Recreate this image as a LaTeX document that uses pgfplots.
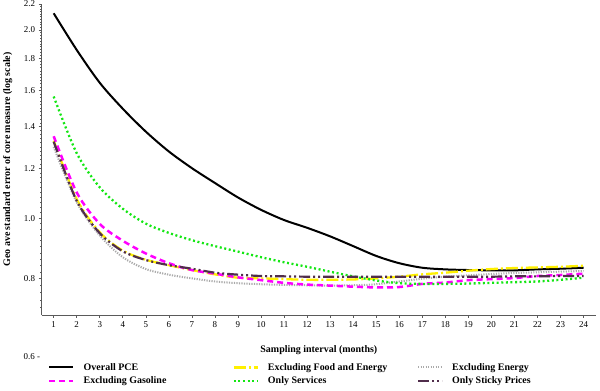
\documentclass[border=0pt]{standalone}
\usepackage{fontspec}
\setmainfont{Liberation Serif}
\usepackage{pgfplots}
\usepackage{pgfplotstable}
\pgfplotsset{compat=1.18}
\definecolor{cyel}{RGB}{255,240,0}
\definecolor{cgray}{RGB}{170,170,170}
\definecolor{cmag}{RGB}{255,0,255}
\definecolor{cgrn}{RGB}{20,230,20}
\definecolor{cpur}{RGB}{80,45,75}
\definecolor{caxis}{RGB}{90,90,90}

\pgfplotstableread{
x pce xfe xen xgas serv sticky
1 2.126 1.330 1.300 1.352 1.565 1.325
2 1.858 1.072 1.060 1.099 1.270 1.066
3 1.646 0.949 0.938 0.979 1.120 0.946
4 1.496 0.887 0.866 0.920 1.035 0.885
5 1.375 0.858 0.829 0.878 0.980 0.857
6 1.278 0.841 0.812 0.847 0.947 0.841
7 1.202 0.826 0.801 0.826 0.922 0.830
8 1.138 0.813 0.792 0.815 0.902 0.818
9 1.079 0.803 0.787 0.804 0.884 0.812
10 1.031 0.801 0.784 0.796 0.866 0.808
11 0.993 0.799 0.782 0.788 0.850 0.807
12 0.965 0.797 0.781 0.783 0.836 0.806
13 0.935 0.797 0.780 0.780 0.821 0.806
14 0.902 0.798 0.781 0.777 0.807 0.806
15 0.870 0.801 0.784 0.775 0.795 0.806
16 0.847 0.806 0.792 0.776 0.787 0.806
17 0.833 0.813 0.800 0.785 0.785 0.806
18 0.828 0.818 0.806 0.789 0.785 0.806
19 0.826 0.824 0.810 0.796 0.786 0.806
20 0.825 0.829 0.814 0.799 0.788 0.806
21 0.825 0.832 0.817 0.802 0.790 0.807
22 0.828 0.834 0.819 0.808 0.792 0.807
23 0.830 0.836 0.821 0.811 0.797 0.808
24 0.833 0.839 0.823 0.815 0.803 0.808
}\data

\begin{document}
\begin{tikzpicture}
\begin{axis}[name=ax, scale only axis, width=554.3bp, height=311bp,
  xmin=0.48, xmax=24.54, ymode=log, ymin=0.7, ymax=2.2,
  xtick={1,...,24},
  ytick={0.8,1.0,1.2,1.4,1.6,1.8,2.0,2.2},
  yticklabels={0.8,1.0,1.2,1.4,1.6,1.8,2.0,2.2},
  minor ytick={0.72,0.74,...,2.19},
  axis x line*=bottom, axis y line*=left,
  axis line style={-, caxis, line width=0.9bp},
  tick align=outside, major tick length=3bp, minor tick length=1.5bp,
  tick style={caxis, line width=0.6bp},
  ticklabel style={font=\fontsize{9}{10}\selectfont},
  /pgf/number format/assume math mode=true,
  clip mode=individual,
  xlabel={Sampling interval (months)},
  xlabel style={font=\bfseries\fontsize{10}{12}\selectfont, at={(rel axis cs:0.5,-0.1125)}, anchor=center},
  ylabel={Geo ave standard error of core measure (log scale)},
  ylabel style={font=\bfseries\fontsize{10}{12}\selectfont, at={(rel axis cs:-0.0614,0.5)}, anchor=center},
  legend columns=3,
  legend style={at={(rel axis cs:0,0)}, anchor=north west, xshift=6.3bp, yshift=-47bp,
    draw=none, fill=none, inner sep=0pt,
    font=\bfseries\fontsize{10}{12}\selectfont,
    nodes={inner sep=1bp},
    /tikz/every odd column/.append style={column sep=8bp},
    /tikz/row sep=3bp, cells={anchor=west}},
  legend image code/.code={\draw[#1] (0bp,0bp) -- (24bp,0bp);},
]
\addplot[black, line width=2bp, smooth] table[x=x,y=pce]{\data};
\addlegendentry{\makebox[148bp][l]{Overall PCE}}
\addplot[cyel, line width=2.3bp, smooth, dash pattern=on 12bp off 3bp on 2bp off 3bp] table[x=x,y=xfe]{\data};
\addlegendentry{\makebox[148bp][l]{Excluding Food and Energy}}
\addplot[cgray, line width=2bp, smooth, dash pattern=on 1.2bp off 1.3bp] table[x=x,y=xen]{\data};
\addlegendentry{Excluding Energy}
\addplot[cmag, line width=2.5bp, smooth, dash pattern=on 6bp off 4bp] table[x=x,y=xgas]{\data};
\addlegendentry{\makebox[148bp][l]{Excluding Gasoline}}
\addplot[cgrn, line width=2.3bp, smooth, dash pattern=on 2bp off 2.6bp] table[x=x,y=serv]{\data};
\addlegendentry{\makebox[148bp][l]{Only Services}}
\addplot[cpur, line width=2.2bp, smooth, dash pattern=on 11bp off 3bp on 2bp off 3bp on 2bp off 3bp] table[x=x,y=sticky]{\data};
\addlegendentry{Only Sticky Prices}
\node[anchor=east, inner sep=0pt, font=\fontsize{9}{10}\selectfont, xshift=-1.5bp] at (axis cs:0.48,0.6) {0.6 -};
\end{axis}
\pgfresetboundingbox
\path ([xshift=-41.7bp,yshift=-76bp]ax.south west) rectangle ([xshift=4bp,yshift=4bp]ax.north east);
\end{tikzpicture}
\end{document}
